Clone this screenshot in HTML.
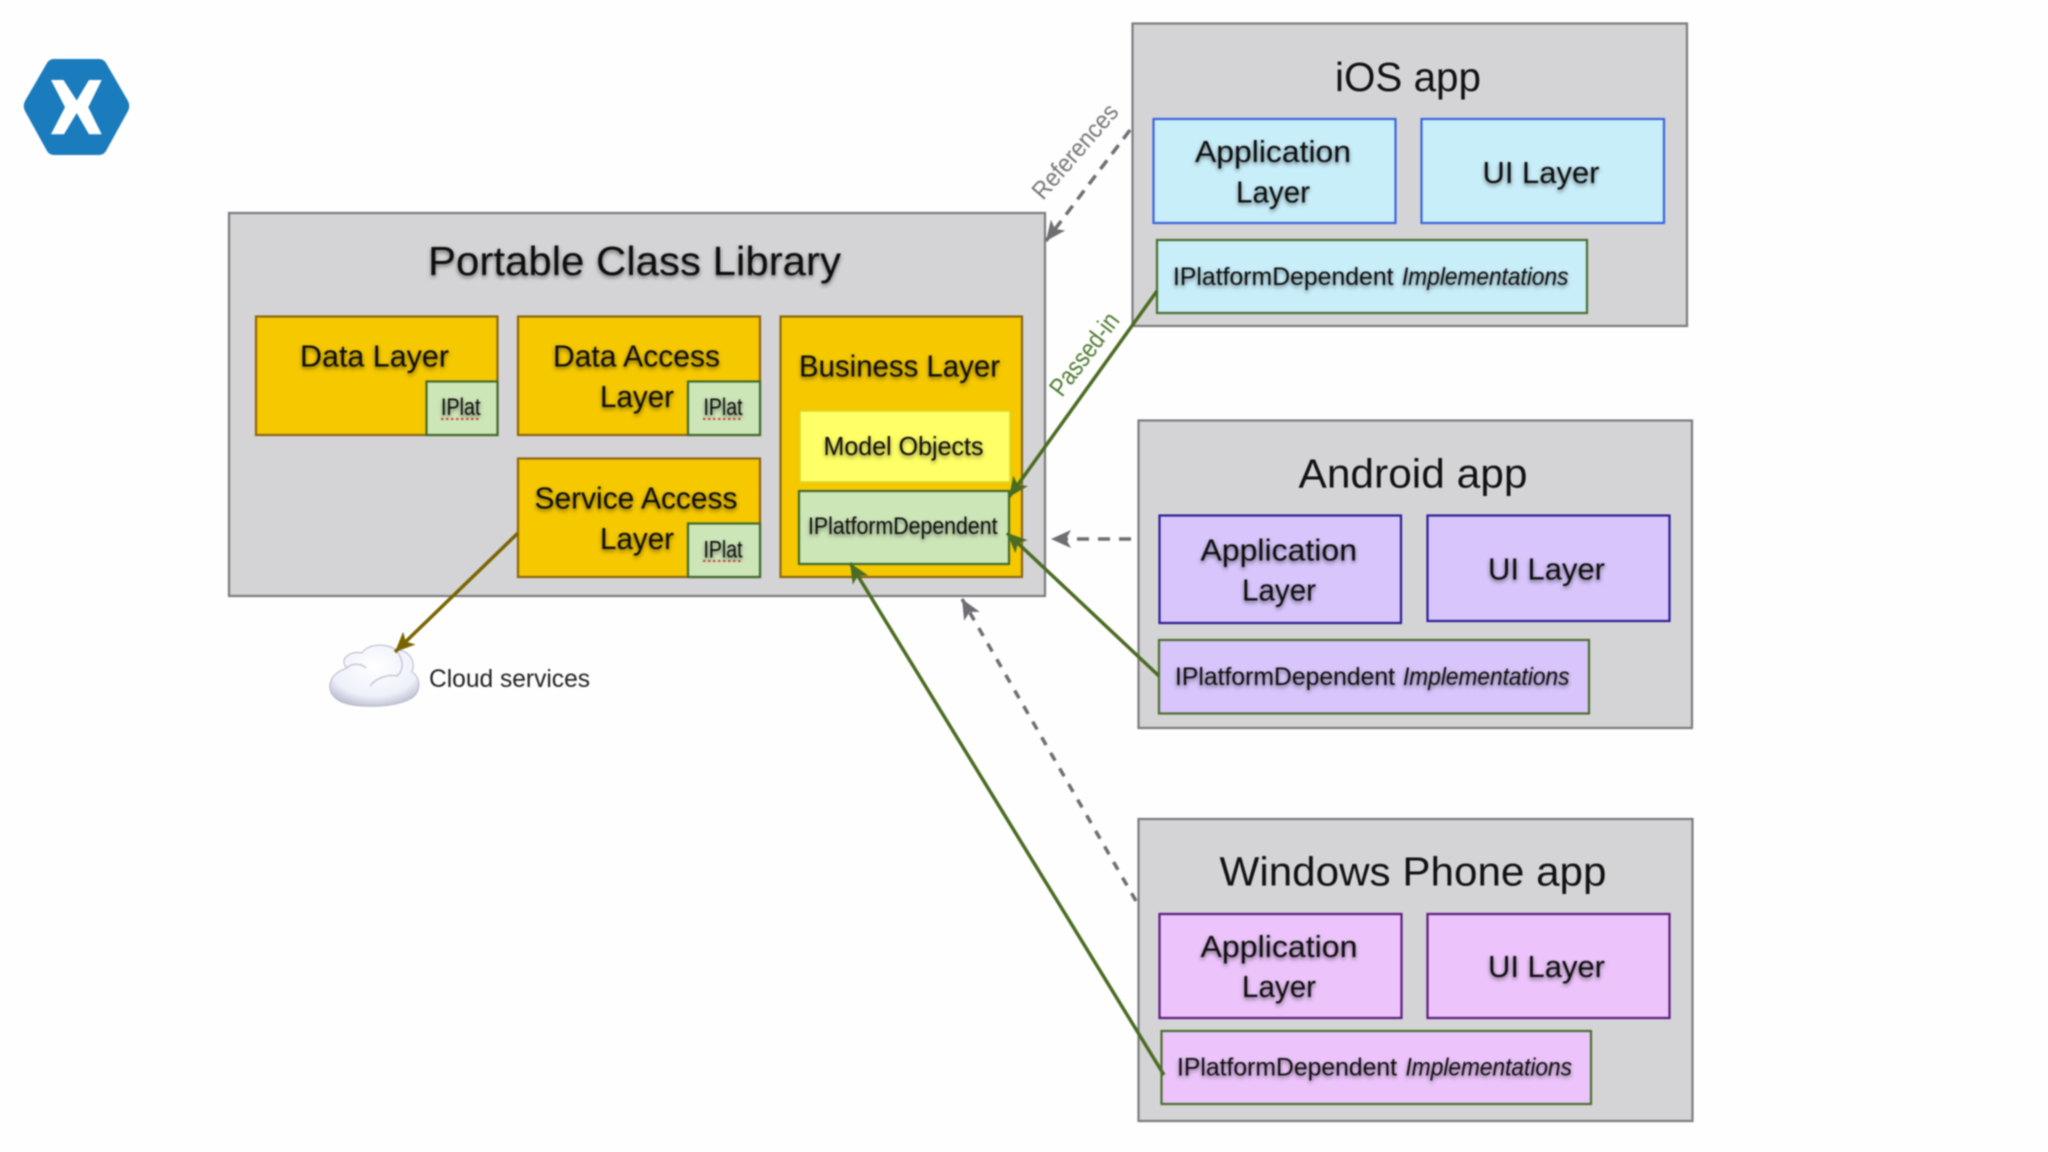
<!DOCTYPE html>
<html><head><meta charset="utf-8"><title>Xamarin architecture</title>
<style>
html,body{margin:0;padding:0;background:#fefefe;width:2048px;height:1152px;overflow:hidden}
svg{display:block;filter:blur(.8px)}
text{font-family:"Liberation Sans",sans-serif;fill:#111}
.s text,text.s{filter:url(#sh)}
</style></head><body>
<svg width="2048" height="1152" viewBox="0 0 2048 1152" xmlns="http://www.w3.org/2000/svg">
<defs>
<filter id="sh" x="-10%" y="-30%" width="120%" height="170%"><feDropShadow dx="0" dy="2" stdDeviation="2" flood-color="#000" flood-opacity=".55"/></filter>
<marker id="ag" markerUnits="userSpaceOnUse" markerWidth="22" markerHeight="20" refX="20" refY="10" orient="auto"><path d="M20,10 L0,1 L5,10 L0,19 Z" fill="#4a6b22"/></marker>
<marker id="ab" markerUnits="userSpaceOnUse" markerWidth="22" markerHeight="20" refX="20" refY="10" orient="auto"><path d="M20,10 L0,1 L5,10 L0,19 Z" fill="#7a6400"/></marker>
<marker id="ad" markerUnits="userSpaceOnUse" markerWidth="22" markerHeight="20" refX="20" refY="10" orient="auto"><path d="M20,10 L0,1 L5,10 L0,19 Z" fill="#6e6e72"/></marker>
<radialGradient id="cl" cx=".5" cy=".35" r=".75"><stop offset="0" stop-color="#ffffff"/><stop offset=".65" stop-color="#eef0fa"/><stop offset="1" stop-color="#a9adc0"/></radialGradient>
</defs>
<rect width="2048" height="1152" fill="#fefefe"/>

<!-- logo -->
<path d="M25,101 L47,63 Q49.5,59 54,59 L99,59 Q103.5,59 106,63 L128,101 Q130.5,106 128,111 L106,151 Q103.5,155 99,155 L54,155 Q49.5,155 47,151 L25,111 Q22.5,106 25,101 Z" fill="#1a7bbd"/>
<polygon points="51,80 63.5,80 76.7,100.5 89,80 101.7,80 88.3,107.3 101.7,134.3 89,134.3 76.7,113 64,134.3 51,134.3 65,107.3" fill="#fff"/>

<!-- PCL -->
<g stroke-width="2.2">
<rect x="229" y="213" width="816" height="383" fill="#d4d4d6" stroke="#7b7b7d"/>
<g fill="#f5c800" stroke="#8c6412">
<rect x="256" y="316.5" width="241.5" height="118.5"/>
<rect x="518" y="316.5" width="242" height="118.5"/>
<rect x="518" y="458.5" width="242" height="118.5"/>
<rect x="780.5" y="316.5" width="241.5" height="260.5"/>
</g>
<g fill="#cde6b8" stroke="#3f6a2a">
<rect x="426.5" y="381.5" width="71" height="53.5"/>
<rect x="688" y="381.5" width="72" height="53.5"/>
<rect x="688" y="523.5" width="72" height="53.5"/>
<rect x="799" y="491" width="210" height="73"/>
</g>
<rect x="800" y="411" width="210" height="71" fill="#ffff66" stroke="#d6d82a" stroke-width="1.5"/>

<!-- iOS -->
<rect x="1132.5" y="23.5" width="554.5" height="302.5" fill="#d4d4d6" stroke="#7b7b7d"/>
<g fill="#c8eefa" stroke="#3a64dc">
<rect x="1153.5" y="119" width="242" height="104"/>
<rect x="1421.5" y="119" width="242.5" height="104"/>
</g>
<rect x="1157" y="240" width="430" height="73" fill="#c8eefa" stroke="#4a6f2c"/>

<!-- Android -->
<rect x="1138.5" y="420.5" width="553.5" height="307.5" fill="#d4d4d6" stroke="#7b7b7d"/>
<g fill="#d7c5fb" stroke="#2d1c92">
<rect x="1159.5" y="515.5" width="241.5" height="107.5"/>
<rect x="1427.5" y="515.5" width="242" height="105.5"/>
</g>
<rect x="1159" y="640" width="430" height="73.5" fill="#d7c5fb" stroke="#4a6f2c"/>

<!-- Windows Phone -->
<rect x="1138.5" y="819" width="554" height="302" fill="#d4d4d6" stroke="#7b7b7d"/>
<g fill="#ecc4fb" stroke="#5c1a80">
<rect x="1159.5" y="914" width="242" height="104"/>
<rect x="1427.5" y="914" width="242" height="104"/>
</g>
<rect x="1161.5" y="1031" width="429.5" height="73" fill="#ecc4fb" stroke="#4a6f2c"/>
</g>

<!-- cloud -->
<path d="M347,668 C338,660 350,650 362,653 C368,643 388,643 396,650 C410,650 416,662 412,672 C422,678 421,694 410,699 C395,708 350,709 338,700 C325,692 327,674 347,668 Z" fill="url(#cl)" stroke="#b4b7c8" stroke-width="1"/>
<path d="M347,668 C352,662 362,664 366,668 M396,650 C404,660 404,670 397,676 C388,674 376,678 370,686" fill="none" stroke="#c4c7d6" stroke-width="1.5"/>

<!-- connectors -->
<line x1="1130" y1="130" x2="1046" y2="241" stroke="#6e6e72" stroke-width="3.5" stroke-dasharray="11 8" marker-end="url(#ad)"/>
<line x1="1131" y1="539" x2="1051" y2="539" stroke="#6e6e72" stroke-width="3.5" stroke-dasharray="12 9" marker-end="url(#ad)"/>
<line x1="1136" y1="901" x2="962" y2="599" stroke="#6e6e72" stroke-width="3.5" stroke-dasharray="9 9" marker-end="url(#ad)"/>
<line x1="1157" y1="291" x2="1009" y2="497" stroke="#4a6b22" stroke-width="3.5" marker-end="url(#ag)"/>
<line x1="1159" y1="676" x2="1007" y2="533" stroke="#4a6b22" stroke-width="3.5" marker-end="url(#ag)"/>
<line x1="1164" y1="1075" x2="850" y2="563" stroke="#4a6b22" stroke-width="3.5" marker-end="url(#ag)"/>
<line x1="518" y1="533" x2="395" y2="652" stroke="#7a6400" stroke-width="3.5" marker-end="url(#ab)"/>

<!-- red squiggles -->
<g stroke="#d84040" stroke-width="2" stroke-dasharray="2.5 2.5" fill="none">
<line x1="441" y1="419" x2="479" y2="419"/>
<line x1="703" y1="419" x2="741" y2="419"/>
<line x1="703" y1="561" x2="741" y2="561"/>
</g>

<!-- labels -->
<g class="s">
<text x="428" y="275" font-size="41" textLength="413" lengthAdjust="spacingAndGlyphs">Portable Class Library</text>
<text x="300" y="366.5" font-size="31" textLength="149" lengthAdjust="spacingAndGlyphs">Data Layer</text>
<text x="553" y="366.5" font-size="31" textLength="167" lengthAdjust="spacingAndGlyphs">Data Access</text>
<text x="600" y="407" font-size="31" textLength="74" lengthAdjust="spacingAndGlyphs">Layer</text>
<text x="534.5" y="508.5" font-size="31" textLength="203" lengthAdjust="spacingAndGlyphs">Service Access</text>
<text x="600" y="549" font-size="31" textLength="74" lengthAdjust="spacingAndGlyphs">Layer</text>
<text x="799" y="376.5" font-size="31" textLength="201" lengthAdjust="spacingAndGlyphs">Business Layer</text>
<text x="823.5" y="455" font-size="26" textLength="160" lengthAdjust="spacingAndGlyphs">Model Objects</text>
<text x="808" y="534" font-size="24" textLength="189.5" lengthAdjust="spacingAndGlyphs">IPlatformDependent</text>
<text x="441" y="415" font-size="24" textLength="39.5" lengthAdjust="spacingAndGlyphs">IPlat</text>
<text x="703.5" y="415" font-size="24" textLength="39" lengthAdjust="spacingAndGlyphs">IPlat</text>
<text x="703.5" y="557.5" font-size="24" textLength="39" lengthAdjust="spacingAndGlyphs">IPlat</text>

<text x="1195" y="162" font-size="31" textLength="156" lengthAdjust="spacingAndGlyphs">Application</text>
<text x="1236" y="202.5" font-size="31" textLength="74" lengthAdjust="spacingAndGlyphs">Layer</text>
<text x="1482.5" y="183" font-size="31" textLength="117" lengthAdjust="spacingAndGlyphs">UI Layer</text>
<text x="1173" y="285" font-size="25" textLength="220.5" lengthAdjust="spacingAndGlyphs">IPlatformDependent</text>
<text x="1402" y="285" font-size="25" font-style="italic" textLength="166.5" lengthAdjust="spacingAndGlyphs">Implementations</text>

<text x="1200.5" y="560.5" font-size="31" textLength="156.5" lengthAdjust="spacingAndGlyphs">Application</text>
<text x="1242" y="600.5" font-size="31" textLength="74" lengthAdjust="spacingAndGlyphs">Layer</text>
<text x="1488" y="579.5" font-size="31" textLength="117" lengthAdjust="spacingAndGlyphs">UI Layer</text>
<text x="1175" y="685" font-size="25" textLength="220" lengthAdjust="spacingAndGlyphs">IPlatformDependent</text>
<text x="1403" y="685" font-size="25" font-style="italic" textLength="166.5" lengthAdjust="spacingAndGlyphs">Implementations</text>

<text x="1200.5" y="957" font-size="31" textLength="157" lengthAdjust="spacingAndGlyphs">Application</text>
<text x="1242" y="997" font-size="31" textLength="74" lengthAdjust="spacingAndGlyphs">Layer</text>
<text x="1488" y="977" font-size="31" textLength="117" lengthAdjust="spacingAndGlyphs">UI Layer</text>
<text x="1177" y="1075.5" font-size="25" textLength="220" lengthAdjust="spacingAndGlyphs">IPlatformDependent</text>
<text x="1405.5" y="1075.5" font-size="25" font-style="italic" textLength="166.5" lengthAdjust="spacingAndGlyphs">Implementations</text>
</g>
<text x="1335" y="91" font-size="41" textLength="146" lengthAdjust="spacingAndGlyphs">iOS app</text>
<text x="1298.5" y="487.5" font-size="41" textLength="229" lengthAdjust="spacingAndGlyphs">Android app</text>
<text x="1219.5" y="885.5" font-size="41" textLength="387" lengthAdjust="spacingAndGlyphs">Windows Phone app</text>
<text x="429" y="687" font-size="25" textLength="161" lengthAdjust="spacingAndGlyphs" style="fill:#222">Cloud services</text>
<text transform="translate(1043 201) rotate(-49)" font-size="25" textLength="117" lengthAdjust="spacingAndGlyphs" style="fill:#777">References</text>
<text transform="translate(1062 398) rotate(-52.8)" font-size="26" textLength="97" lengthAdjust="spacingAndGlyphs" style="fill:#4f7a30">Passed-in</text>
</svg>
</body></html>
